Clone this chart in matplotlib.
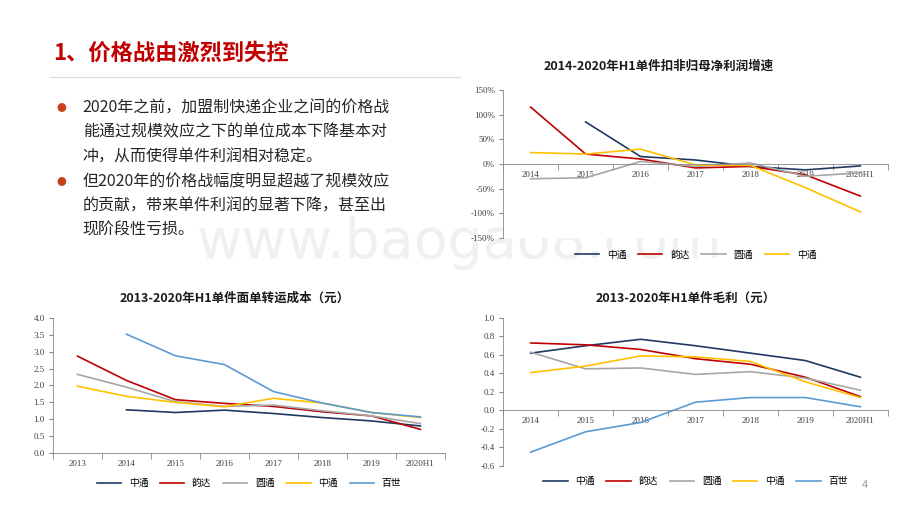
import numpy as np
import matplotlib.pyplot as plt

plt.rcParams['font.family'] = ['Noto Sans CJK SC']

# data
yr_a = ['2014', '2015', '2016', '2017', '2018', '2019', '2020H1']
yr_b = ['2013', '2014', '2015', '2016', '2017', '2018', '2019', '2020H1']
names = ['中通', '韵达', '圆通', '中通', '百世']
colors = ['#1f3864', '#c00000', '#a6a6a6', '#ffc000', '#5b9bd5']

growth_zto = [np.nan, 85, 15, 8, -5, -12, -4]
growth_yd = [115, 20, 10, -8, -5, -22, -65]
growth_yto = [-30, -28, 5, -5, 2, -25, -18]
growth_sto = [23, 20, 30, -2, -3, -48, -97]

cost_zto = [np.nan, 1.28, 1.20, 1.27, 1.17, 1.05, 0.95, 0.80]
cost_yd = [2.87, 2.15, 1.58, 1.47, 1.38, 1.22, 1.10, 0.70]
cost_yto = [2.33, 1.95, 1.52, 1.38, 1.42, 1.25, 1.10, 0.87]
cost_sto = [1.98, 1.68, 1.50, 1.37, 1.62, 1.48, 1.20, 1.05]
cost_bs = [np.nan, 3.52, 2.88, 2.62, 1.82, 1.48, 1.20, 1.07]

gp_zto = [0.62, 0.70, 0.77, 0.70, 0.62, 0.54, 0.36]
gp_yd = [0.73, 0.71, 0.66, 0.56, 0.50, 0.36, 0.15]
gp_yto = [0.63, 0.45, 0.46, 0.39, 0.42, 0.35, 0.22]
gp_sto = [0.41, 0.48, 0.59, 0.58, 0.53, 0.31, 0.14]
gp_bs = [-0.45, -0.23, -0.13, 0.09, 0.14, 0.14, 0.04]

fig = plt.figure(figsize=(9.2, 5.18), dpi=100)
fig.patch.set_facecolor('white')


def style(ax, cats, ymin, ymax, step, fmt, zero_axis=False):
    if zero_axis:
        ax.spines['bottom'].set_position(('data', 0))
    x = np.arange(len(cats))
    ax.set_xlim(-0.5, len(cats) - 0.5)
    ax.set_ylim(ymin, ymax)
    yt = np.arange(ymin, ymax + step / 2, step)
    ax.set_yticks(yt)
    ax.set_yticklabels([fmt(v) for v in yt], fontsize=6.5,
                       family='Liberation Serif', color='#404040')
    ax.set_xticks(x)
    ax.set_xticklabels(cats, fontsize=6.5, family='Liberation Serif', color='#404040')
    ax.set_xticks(np.arange(-0.5, len(cats)), minor=True)
    ax.tick_params(axis='x', which='major', length=0, pad=5)
    ax.tick_params(axis='x', which='minor', length=4, color='#888888')
    ax.tick_params(axis='y', length=3, color='#888888', pad=3)
    for s in ['top', 'right']:
        ax.spines[s].set_visible(False)
    for s in ['left', 'bottom']:
        ax.spines[s].set_color('#888888')
        ax.spines[s].set_linewidth(0.6)


def legend(ax, n, y):
    ax.legend(ncol=n, loc='upper center', bbox_to_anchor=(0.5, y), frameon=False,
              fontsize=7, handlelength=2.5, columnspacing=1.2)


# chart 1
ax1 = fig.add_axes([0.547, 0.5405, 0.418, 0.286])
x = np.arange(len(yr_a))
for s, c, n in zip([growth_zto, growth_yd, growth_yto, growth_sto], colors, names):
    ax1.plot(x, s, color=c, lw=1.2, label=n)
style(ax1, yr_a, -150, 150, 50, lambda v: f'{int(v)}%', zero_axis=True)
legend(ax1, 4, -0.02)
fig.text(0.716, 0.865, '2014-2020年H1单件扣非归母净利润增速', ha='center',
         fontsize=9, weight='bold', color='#1a1a1a')

# chart 2
ax2 = fig.add_axes([0.0576, 0.1255, 0.426, 0.2606])
x = np.arange(len(yr_b))
for s, c, n in zip([cost_zto, cost_yd, cost_yto, cost_sto, cost_bs], colors, names):
    ax2.plot(x, s, color=c, lw=1.2, label=n)
style(ax2, yr_b, 0, 4, 0.5, lambda v: f'{v:.1f}')
legend(ax2, 5, -0.12)
fig.text(0.255, 0.418, '2013-2020年H1单件面单转运成本（元）', ha='center',
         fontsize=9, weight='bold', color='#1a1a1a')

# chart 3
ax3 = fig.add_axes([0.547, 0.1004, 0.418, 0.2857])
x = np.arange(len(yr_a))
for s, c, n in zip([gp_zto, gp_yd, gp_yto, gp_sto, gp_bs], colors, names):
    ax3.plot(x, s, color=c, lw=1.2, label=n)
style(ax3, yr_a, -0.6, 1.0, 0.2, lambda v: f'{v:.1f}', zero_axis=True)
legend(ax3, 5, -0.01)
fig.text(0.745, 0.418, '2013-2020年H1单件毛利（元）', ha='center',
         fontsize=9, weight='bold', color='#1a1a1a')

# slide text
fig.text(0.058, 0.885, '1、价格战由激烈到失控', fontsize=16, weight='bold', color='#c00000')
fig.add_artist(plt.Line2D([0.054, 0.5], [0.852, 0.852], color='#d9d9d9', lw=0.8))
lines = ['2020年之前，加盟制快递企业之间的价格战',
         '能通过规模效应之下的单位成本下降基本对',
         '冲，从而使得单件利润相对稳定。',
         '但2020年的价格战幅度明显超越了规模效应',
         '的贡献，带来单件利润的显著下降，甚至出',
         '现阶段性亏损。']
ys = [108, 132, 157, 182, 206, 230]
for t, yp in zip(lines, ys):
    fig.text(0.09, 1 - yp / 518, t, fontsize=11.5, color='#262626', va='center')
for yp in [108, 182]:
    fig.text(0.067, 1 - yp / 518, '●', fontsize=7, color='#c9401a', va='center', ha='center')

fig.text(0.5, 0.53, 'www.baogao8.com', fontsize=40, color='#f0f0f0', ha='center',
         va='center', family='DejaVu Sans', zorder=-1)
fig.text(0.937, 0.057, '4', fontsize=8, color='#a0a0a0')

fig.savefig('out.png', dpi=100)
